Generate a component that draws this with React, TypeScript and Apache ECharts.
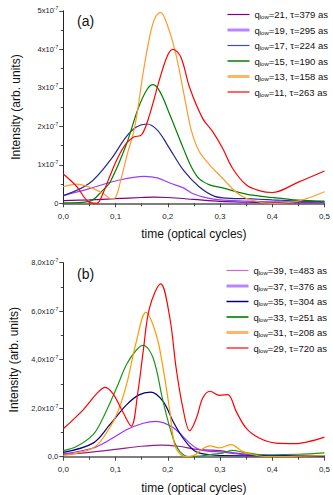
import React, { useEffect, useRef } from "react";
import * as echarts from "echarts";

// ---- Panel (a) ----
const topQ = [21, 19, 17, 15, 13, 11];
const topTau = [379, 295, 224, 190, 158, 263];
const topColors = ["#800080", "#9a3cff", "#25258f", "#008000", "#ff9a2e", "#ff0000"];
const topLegendColors = ["#800080", "#b884ff", "#4a4aa8", "#008000", "#ffb469", "#ff0000"];
const topLegendWidths = [1.2, 3, 1.2, 1.5, 3, 1.2];
const topYTicks = [0, 1, 2, 3, 4, 5]; // x1e-7

const a21: [number, number][] = [[0,0.07],[0.05,0.09],[0.1,0.12],[0.15,0.15],[0.175,0.16],[0.2,0.15],[0.25,0.1],[0.3,0.05],[0.35,0.03],[0.4,0.02],[0.45,0.02],[0.5,0.02]];
const a19: [number, number][] = [[0,0.2],[0.05,0.38],[0.1,0.58],[0.155,0.7],[0.18,0.66],[0.205,0.52],[0.23,0.4],[0.25,0.24],[0.275,0.14],[0.3,0.09],[0.35,0.06],[0.4,0.04],[0.5,0.03]];
const a17: [number, number][] = [[0,0.2],[0.05,0.52],[0.09,1.12],[0.12,1.72],[0.14,1.98],[0.16,2.06],[0.18,1.9],[0.2,1.5],[0.23,0.86],[0.26,0.43],[0.29,0.18],[0.32,0.13],[0.35,0.12],[0.4,0.09],[0.45,0.06],[0.5,0.05]];
const a15: [number, number][] = [[0,0.01],[0.05,0.05],[0.075,0.33],[0.09,0.56],[0.12,1.5],[0.143,2.45],[0.16,2.95],[0.172,3.08],[0.185,2.9],[0.204,2.3],[0.23,1.42],[0.245,0.95],[0.26,0.64],[0.28,0.48],[0.305,0.4],[0.35,0.24],[0.4,0.15],[0.45,0.08],[0.5,0.05]];
const a13: [number, number][] = [[0,0.43],[0.026,0.5],[0.05,0.42],[0.076,0.26],[0.092,0.12],[0.1,0.15],[0.11,0.6],[0.121,1.2],[0.137,2.0],[0.153,3.4],[0.165,4.3],[0.175,4.8],[0.186,4.96],[0.2,4.6],[0.216,3.85],[0.235,2.55],[0.245,1.9],[0.26,1.35],[0.28,1.0],[0.305,0.65],[0.33,0.3],[0.35,0.13],[0.38,0.02],[0.4,0.0],[0.45,0.06],[0.5,0.3]];
const a11: [number, number][] = [[0,0.76],[0.026,0.43],[0.048,0.04],[0.064,0.0],[0.076,0.26],[0.089,0.7],[0.105,1.2],[0.121,1.56],[0.135,1.72],[0.15,1.78],[0.165,2.29],[0.185,3.25],[0.2,3.85],[0.21,4.0],[0.225,3.8],[0.242,3.0],[0.267,2.2],[0.286,1.86],[0.305,1.43],[0.324,0.91],[0.35,0.48],[0.375,0.33],[0.4,0.28],[0.45,0.55],[0.5,0.84]];
const topData = [a21, a19, a17, a15, a13, a11];

// ---- Panel (b) ----
const botQ = [39, 37, 35, 33, 31, 29];
const botTau = [483, 376, 304, 251, 208, 720];
const botColors = ["#902090", "#9933ff", "#000080", "#1e961e", "#ff9900", "#ff0000"];
const botLegendColors = ["#c070c8", "#b884ff", "#000080", "#2e962e", "#ffb469", "#ff0000"];
const botLegendWidths = [1.2, 3, 1.5, 2, 3, 1.2];
const botYTicks = [0, 2, 4, 6, 8]; // x1e-7

const b39: [number, number][] = [[0,0.1],[0.05,0.18],[0.1,0.3],[0.15,0.43],[0.19,0.48],[0.22,0.43],[0.26,0.29],[0.3,0.25],[0.33,0.15],[0.36,0.08],[0.4,0.05],[0.5,0.04]];
const b37: [number, number][] = [[0,0.12],[0.057,0.36],[0.089,0.7],[0.121,1.11],[0.153,1.38],[0.178,1.46],[0.21,1.2],[0.242,0.56],[0.26,0.3],[0.28,0.22],[0.3,0.2],[0.32,0.15],[0.35,0.08],[0.4,0.05],[0.5,0.04]];
const b35: [number, number][] = [[0,0.18],[0.057,0.56],[0.089,1.32],[0.121,2.14],[0.145,2.55],[0.167,2.66],[0.191,2.28],[0.21,1.46],[0.229,0.77],[0.248,0.29],[0.261,0.15],[0.28,0.08],[0.3,0.05],[0.4,0.03],[0.5,0.03]];
const b33: [number, number][] = [[0,0.25],[0.026,0.43],[0.057,0.91],[0.076,1.6],[0.102,2.83],[0.121,3.8],[0.14,4.4],[0.153,4.59],[0.172,4.07],[0.191,2.28],[0.21,0.77],[0.223,0.22],[0.24,0.0],[0.26,0.02],[0.28,0.08],[0.305,0.15],[0.324,0.26],[0.345,0.18],[0.37,0.1],[0.4,0.08],[0.45,0.1],[0.5,0.16]];
const b31: [number, number][] = [[0,0.05],[0.026,0.15],[0.057,0.36],[0.076,0.77],[0.102,1.73],[0.121,2.97],[0.14,4.76],[0.158,5.95],[0.178,5.03],[0.191,3.66],[0.204,1.87],[0.213,0.5],[0.225,0.08],[0.235,0.0],[0.25,0.05],[0.265,0.3],[0.28,0.45],[0.299,0.36],[0.321,0.5],[0.343,0.22],[0.37,0.05],[0.4,0.0],[0.45,0.02],[0.5,0.05]];
const b29: [number, number][] = [[0,1.15],[0.038,1.93],[0.064,2.6],[0.08,2.86],[0.095,2.6],[0.115,1.8],[0.13,1.26],[0.143,2.7],[0.153,4.35],[0.165,6.13],[0.1865,7.13],[0.204,5.72],[0.216,3.66],[0.229,2.0],[0.242,1.07],[0.255,1.6],[0.267,2.42],[0.281,2.7],[0.299,2.53],[0.315,2.56],[0.331,1.87],[0.35,1.18],[0.375,0.77],[0.407,0.56],[0.445,0.54],[0.471,0.63],[0.5,0.81]];
const botData = [b39, b37, b35, b33, b31, b29];

const xTicks = [0, 0.1, 0.2, 0.3, 0.4, 0.5];

const FONT = "Liberation Sans, Arial, sans-serif";

function legendLabel(q: number, tau: number) {
  return `{q|q}{s|low}{t|=${q}, \u03c4=${tau} as}`;
}

export default function App() {
  const ref = useRef<HTMLDivElement>(null);
  useEffect(() => {
    const chart = echarts.init(ref.current!, null, { renderer: "svg" });

    const xAxisCommon = (gridIndex: number) => ({
      gridIndex,
      type: "value",
      min: xTicks[0],
      max: xTicks[xTicks.length - 1],
      interval: 0.1,
      name: "time (optical cycles)",
      nameLocation: "middle",
      nameGap: 25,
      nameTextStyle: { fontFamily: FONT, fontSize: 12, color: "#111" },
      axisLine: { show: true, onZero: false, lineStyle: { color: "#555", width: 1.5 } },
      axisTick: { show: true, inside: false, length: 4, lineStyle: { color: "#444" } },
      minorTick: { show: true, splitNumber: 2, length: 3, lineStyle: { color: "#444" } },
      splitLine: { show: false },
      axisLabel: {
        fontFamily: FONT, fontSize: 8, color: "#222", margin: 9,
        formatter: (v: number) => v.toFixed(1).replace(".", ","),
      },
    });

    const supRich = {
      a: { fontFamily: FONT, fontSize: 7.5, color: "#222", lineHeight: 10 },
      e: { fontFamily: FONT, fontSize: 5, color: "#222", verticalAlign: "top", lineHeight: 10, padding: [0, 0, 4, 0] },
    };

    const legendRich = {
      q: { fontFamily: FONT, fontSize: 9.5, color: "#111", lineHeight: 12 },
      s: { fontFamily: FONT, fontSize: 6, color: "#111", lineHeight: 12, padding: [5, 0, 0, 0] },
      t: { fontFamily: FONT, fontSize: 9.5, color: "#111", lineHeight: 12 },
    };

    const topNames = topQ.map((q) => `q${q}`);
    const botNames = botQ.map((q) => `q${q}`);

    const series: any[] = [];
    topData.forEach((d, i) => {
      series.push({
        name: topNames[i], type: "line", xAxisIndex: 0, yAxisIndex: 0,
        data: d, smooth: 0.35, symbol: "none", showSymbol: false, clip: true,
        lineStyle: { color: topColors[i], width: 1.2 }, itemStyle: { color: topColors[i] },
      });
    });
    botData.forEach((d, i) => {
      series.push({
        name: botNames[i], type: "line", xAxisIndex: 1, yAxisIndex: 1,
        data: d, smooth: 0.35, symbol: "none", showSymbol: false, clip: true,
        lineStyle: { color: botColors[i], width: 1.2 }, itemStyle: { color: botColors[i] },
      });
    });

    const labelMap: Record<string, string> = {};
    topQ.forEach((q, i) => (labelMap[topNames[i]] = legendLabel(q, topTau[i])));
    botQ.forEach((q, i) => (labelMap[botNames[i]] = legendLabel(q, botTau[i])));

    chart.setOption({
      animation: false,
      backgroundColor: "#ffffff",
      grid: [
        { left: 63.3, top: 10.8, width: 261.7, height: 192.5 },
        { left: 63.3, top: 262.7, width: 261.7, height: 194 },
      ],
      xAxis: [xAxisCommon(0), xAxisCommon(1)],
      yAxis: [
        {
          gridIndex: 0, type: "value", min: topYTicks[0], max: topYTicks[topYTicks.length - 1], interval: 1,
          name: "Intensity (arb. units)", nameLocation: "middle", nameGap: 41,
          nameTextStyle: { fontFamily: FONT, fontSize: 12, color: "#111" },
          axisLine: { show: true, lineStyle: { color: "#222", width: 1 } },
          axisTick: { show: true, inside: false, length: 4, lineStyle: { color: "#444" } },
          minorTick: { show: true, splitNumber: 2, length: 2.5, lineStyle: { color: "#444" } },
          splitLine: { show: false },
          axisLabel: {
            margin: 5, rich: supRich,
            formatter: (v: number) => (v === 0 ? "{a|0}" : `{a|${v}x10}{e|-7}`),
          },
        },
        {
          gridIndex: 1, type: "value", min: botYTicks[0], max: botYTicks[botYTicks.length - 1], interval: 2,
          name: "Intensity (arb. units)", nameLocation: "middle", nameGap: 41,
          nameTextStyle: { fontFamily: FONT, fontSize: 12, color: "#111" },
          axisLine: { show: true, lineStyle: { color: "#222", width: 1 } },
          axisTick: { show: true, inside: false, length: 4, lineStyle: { color: "#444" } },
          minorTick: { show: true, splitNumber: 2, length: 2.5, lineStyle: { color: "#444" } },
          splitLine: { show: false },
          axisLabel: {
            margin: 5, rich: supRich,
            formatter: (v: number) => (v === 0 ? "{a|0,0}" : `{a|${v},0x10}{e|-7}`),
          },
        },
      ],
      legend: [
        {
          orient: "vertical", left: 221, top: 4, itemWidth: 22, itemHeight: 10, itemGap: 4.5,
          selectedMode: false,
          data: topNames.map((n, i) => ({
            name: n,
            lineStyle: { color: topLegendColors[i], width: topLegendWidths[i] },
            itemStyle: { color: topLegendColors[i], opacity: 0, borderWidth: 0 },
          })),
          formatter: (n: string) => labelMap[n],
          textStyle: { rich: legendRich },
        },
        {
          orient: "vertical", left: 220, top: 260, itemWidth: 22, itemHeight: 10, itemGap: 4.5,
          selectedMode: false,
          data: botNames.map((n, i) => ({
            name: n,
            lineStyle: { color: botLegendColors[i], width: botLegendWidths[i] },
            itemStyle: { color: botLegendColors[i], opacity: 0, borderWidth: 0 },
          })),
          formatter: (n: string) => labelMap[n],
          textStyle: { rich: legendRich },
        },
      ],
      graphic: [
        { type: "text", left: 77, top: 14, style: { text: "(a)", fontFamily: FONT, fontSize: 14, fill: "#111" } },
        { type: "text", left: 77, top: 267, style: { text: "(b)", fontFamily: FONT, fontSize: 14, fill: "#111" } },
      ],
      series,
    });
    return () => chart.dispose();
  }, []);
  return <div ref={ref} style={{ position: "absolute", left: 0, top: 0, width: 333, height: 495 }} />;
}
